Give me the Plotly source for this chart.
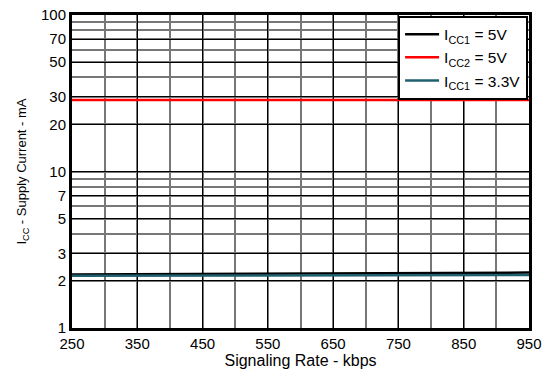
import plotly.graph_objects as go

rate = [250, 350, 450, 550, 650, 750, 850, 950]
icc1_5v = [2.20, 2.21, 2.22, 2.22, 2.23, 2.24, 2.25, 2.26]
icc2_5v = [28.6, 28.6, 28.6, 28.6, 28.6, 28.6, 28.6, 28.6]
icc1_33v = [2.16, 2.16, 2.17, 2.17, 2.17, 2.18, 2.18, 2.18]

x_ticks = [250, 350, 450, 550, 650, 750, 850, 950]
y_ticks = [1, 2, 3, 5, 7, 10, 20, 30, 50, 70, 100]

font = "Liberation Sans, Arial, sans-serif"

fig = go.Figure()
fig.add_trace(go.Scatter(x=rate, y=icc1_5v, mode="lines", name="I<sub>CC1</sub> = 5V",
                         line=dict(color="#000000", width=2.5)))
fig.add_trace(go.Scatter(x=rate, y=icc2_5v, mode="lines", name="I<sub>CC2</sub> = 5V",
                         line=dict(color="#ff0000", width=2.5)))
fig.add_trace(go.Scatter(x=rate, y=icc1_33v, mode="lines", name="I<sub>CC1</sub> = 3.3V",
                         line=dict(color="#1f5f6e", width=2.5)))

fig.update_layout(
    width=543, height=379,
    margin=dict(l=72, r=14, t=15, b=51, autoexpand=False),
    paper_bgcolor="white", plot_bgcolor="white",
    font=dict(family=font, size=15, color="black"),
    showlegend=True,
    legend=dict(x=0.998, y=0.998, xanchor="right", yanchor="top",
                bgcolor="white", bordercolor="black", borderwidth=2,
                font=dict(family=font, size=15.5), tracegroupgap=0,
                itemwidth=34),
    xaxis=dict(
        range=[250, 950], tickvals=x_ticks, ticktext=[str(v) for v in x_ticks],
        showgrid=True, gridcolor="#000000", gridwidth=1,
        minor=dict(dtick=50, tick0=250, showgrid=True, gridcolor="#777777", gridwidth=1.5),
        showline=True, linecolor="black", linewidth=3, mirror=True,
        ticks="", zeroline=False, automargin=False, ticklabeloverflow="allow",
        title=dict(text="Signaling Rate - kbps", font=dict(family=font, size=16), standoff=0),
        tickfont=dict(family=font, size=15),
    ),
    yaxis=dict(
        type="log", range=[0, 2], tickvals=y_ticks, ticktext=[str(v) for v in y_ticks],
        showgrid=True, gridcolor="#000000", gridwidth=1,
        minor=dict(dtick="D1", showgrid=True, gridcolor="#777777", gridwidth=1.5),
        showline=True, linecolor="black", linewidth=3, mirror=True,
        ticks="", zeroline=False, automargin=False, ticklabeloverflow="allow",
        title=dict(text="I<sub>CC</sub> - Supply Current - mA", font=dict(family=font, size=13), standoff=12),
        tickfont=dict(family=font, size=15),
    ),
)

fig.write_html("out.html", config={"displayModeBar": False},
               post_script="document.body.style.margin='0';")
